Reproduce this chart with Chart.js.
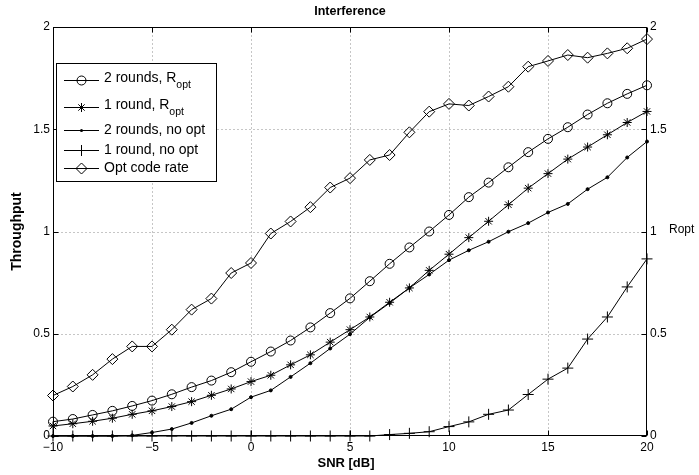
<!DOCTYPE html>
<html>
<head>
<meta charset="utf-8">
<script src="https://cdn.jsdelivr.net/npm/chart.js@4/dist/chart.umd.min.js"></script>
<style>
  html, body { margin: 0; padding: 0; background: #fff; }
  canvas { display: block; }
</style>
</head>
<body>
<canvas id="chart" width="699" height="475"></canvas>
<script>
// ── data ──
const snr = [-10, -9, -8, -7, -6, -5, -4, -3, -2, -1, 0, 1, 2, 3, 4, 5, 6, 7, 8, 9, 10, 11, 12, 13, 14, 15, 16, 17, 18, 19, 20];

const twoRoundsOpt = [0.070, 0.083, 0.103, 0.123, 0.147, 0.173, 0.204, 0.239, 0.271, 0.312, 0.363,
  0.413, 0.467, 0.531, 0.601, 0.673, 0.757, 0.842, 0.922, 1.000, 1.081,
  1.168, 1.239, 1.314, 1.388, 1.453, 1.510, 1.572, 1.627, 1.673, 1.715];

const oneRoundOpt = [0.049, 0.060, 0.072, 0.087, 0.106, 0.123, 0.144, 0.168, 0.199, 0.230, 0.266,
  0.297, 0.348, 0.397, 0.459, 0.520, 0.582, 0.654, 0.724, 0.810, 0.889,
  0.970, 1.050, 1.131, 1.212, 1.283, 1.354, 1.413, 1.473, 1.533, 1.587];

const twoRoundsNoOpt = [0.000, 0.000, 0.000, 0.000, 0.003, 0.017, 0.034, 0.064, 0.099, 0.131, 0.190,
  0.223, 0.289, 0.356, 0.428, 0.498, 0.580, 0.650, 0.724, 0.790, 0.860,
  0.908, 0.950, 0.999, 1.041, 1.093, 1.135, 1.207, 1.265, 1.362, 1.440];

const oneRoundNoOpt = [0, 0, 0, 0, 0, 0, 0, 0, 0, 0, 0,
  0, 0, 0, 0, 0, 0, 0.007, 0.013, 0.021, 0.046,
  0.069, 0.106, 0.127, 0.203, 0.278, 0.332, 0.474, 0.582, 0.729, 0.866];

const optCodeRate = [0.198, 0.242, 0.299, 0.376, 0.438, 0.438, 0.520, 0.618, 0.672, 0.797, 0.846,
  0.990, 1.049, 1.119, 1.215, 1.261, 1.350, 1.374, 1.485, 1.586, 1.624,
  1.616, 1.660, 1.708, 1.806, 1.834, 1.863, 1.850, 1.871, 1.896, 1.941];

const xTicks = [-10, -5, 0, 5, 10, 15, 20];
const yTicks = [0, 0.5, 1, 1.5, 2];

const FONT = '"Liberation Sans", Arial, Helvetica, sans-serif';

function pts(arr) {
  return snr.map((x, i) => ({ x, y: arr[i] }));
}

function series(label, arr, style, radius, fill, axis) {
  return {
    label,
    data: pts(arr),
    yAxisID: axis || 'y',
    borderColor: '#000',
    borderWidth: 1,
    pointStyle: style,
    pointRadius: radius,
    pointBorderColor: '#000',
    pointBorderWidth: 1,
    pointBackgroundColor: fill,
    backgroundColor: fill,
    fill: false,
    tension: 0,
    clip: false
  };
}

// small marker painter for the legend (matches the point styles used)
function drawMarker(ctx, style, x, y, r) {
  ctx.save();
  ctx.strokeStyle = '#000';
  ctx.fillStyle = '#000';
  ctx.lineWidth = 1;
  ctx.beginPath();
  if (style === 'circle') {
    ctx.arc(x, y, r, 0, Math.PI * 2);
    ctx.stroke();
  } else if (style === 'dot') {
    ctx.arc(x, y, r, 0, Math.PI * 2);
    ctx.fill();
  } else if (style === 'cross') {
    ctx.moveTo(x - r, y); ctx.lineTo(x + r, y);
    ctx.moveTo(x, y - r); ctx.lineTo(x, y + r);
    ctx.stroke();
  } else if (style === 'star') {
    const d = r * Math.SQRT1_2;
    ctx.moveTo(x - r, y); ctx.lineTo(x + r, y);
    ctx.moveTo(x, y - r); ctx.lineTo(x, y + r);
    ctx.moveTo(x - d, y - d); ctx.lineTo(x + d, y + d);
    ctx.moveTo(x - d, y + d); ctx.lineTo(x + d, y - d);
    ctx.stroke();
  } else if (style === 'rectRot') {
    ctx.moveTo(x, y - r); ctx.lineTo(x + r, y);
    ctx.lineTo(x, y + r); ctx.lineTo(x - r, y);
    ctx.closePath();
    ctx.stroke();
  }
  ctx.restore();
}

// ── frame, dotted grid, inward ticks, titles ──
const matlabAxes = {
  id: 'matlabAxes',
  beforeDatasetsDraw(chart) {
    const { ctx, chartArea: a, scales } = chart;
    const L = a.left + 0.5, R = Math.round(a.right) - 0.5;
    const T = a.top + 0.5, B = Math.round(a.bottom) - 0.5;
    ctx.save();

    // dotted grid
    ctx.strokeStyle = 'rgba(0,0,0,0.45)';
    ctx.lineWidth = 1;
    ctx.setLineDash([1, 3]);
    xTicks.slice(1, -1).forEach(v => {
      const px = Math.round(scales.x.getPixelForValue(v)) + 0.5;
      ctx.beginPath(); ctx.moveTo(px, T); ctx.lineTo(px, B); ctx.stroke();
    });
    yTicks.slice(1, -1).forEach(v => {
      const py = Math.round(scales.y.getPixelForValue(v)) + 0.5;
      ctx.beginPath(); ctx.moveTo(L, py); ctx.lineTo(R, py); ctx.stroke();
    });
    ctx.setLineDash([]);

    // inward tick marks
    const tl = 5;
    ctx.strokeStyle = '#000';
    ctx.beginPath();
    xTicks.forEach(v => {
      const px = Math.round(scales.x.getPixelForValue(v)) + 0.5;
      ctx.moveTo(px, B); ctx.lineTo(px, B - tl);
      ctx.moveTo(px, T); ctx.lineTo(px, T + tl);
    });
    yTicks.forEach(v => {
      const py = Math.round(scales.y.getPixelForValue(v)) + 0.5;
      ctx.moveTo(L, py); ctx.lineTo(L + tl, py);
      const py2 = Math.round(scales.y2.getPixelForValue(v)) + 0.5;
      ctx.moveTo(R, py2); ctx.lineTo(R - tl, py2);
    });
    ctx.stroke();

    // frame
    ctx.strokeRect(L, T, R - L, B - T);

    // titles
    ctx.fillStyle = '#000';
    ctx.textAlign = 'center';
    ctx.textBaseline = 'middle';
    ctx.font = 'bold 12.5px ' + FONT;
    ctx.fillText('Interference', (a.left + a.right) / 2, 12);
    ctx.font = 'bold 13px ' + FONT;
    ctx.fillText('SNR [dB]', 346, 463);

    ctx.save();
    ctx.translate(17, (a.top + a.bottom) / 2);
    ctx.rotate(-Math.PI / 2);
    ctx.font = 'bold 14px ' + FONT;
    ctx.fillText('Throughput', 0, 0);
    ctx.restore();

    ctx.textAlign = 'left';
    ctx.font = '12px ' + FONT;
    ctx.fillText('Ropt', 669, 229.5);
    ctx.restore();
  },

  // legend box with line+marker samples and subscripts
  afterDatasetsDraw(chart) {
    const { ctx } = chart;
    const rows = [
      { text: '2 rounds, R', sub: 'opt', style: 'circle', r: 4.5, y: 80 },
      { text: '1 round, R', sub: 'opt', style: 'star', r: 4.5, y: 107 },
      { text: '2 rounds, no opt', style: 'dot', r: 1.5, y: 130 },
      { text: '1 round, no opt', style: 'cross', r: 5.5, y: 150 },
      { text: 'Opt code rate', style: 'rectRot', r: 5.5, y: 168 }
    ];
    ctx.save();
    ctx.fillStyle = '#fff';
    ctx.fillRect(56.5, 63.5, 160, 118);
    ctx.strokeStyle = '#000';
    ctx.lineWidth = 1;
    ctx.strokeRect(56.5, 63.5, 160, 118);

    rows.forEach(row => {
      const ly = Math.round(row.y) + 0.5;
      ctx.strokeStyle = '#000';
      ctx.beginPath(); ctx.moveTo(64, ly); ctx.lineTo(99, ly); ctx.stroke();
      drawMarker(ctx, row.style, 81.5, ly, row.r);

      ctx.fillStyle = '#000';
      ctx.textAlign = 'left';
      ctx.textBaseline = 'middle';
      ctx.font = '14px ' + FONT;
      const ty = row.sub ? row.y - 2 : row.y;
      ctx.fillText(row.text, 104, ty);
      if (row.sub) {
        const w = ctx.measureText(row.text).width;
        ctx.font = '10.5px ' + FONT;
        ctx.fillText(row.sub, 104 + w, ty + 7);
      }
    });
    ctx.restore();
  }
};

const tickFont = { family: FONT, size: 12 };
const plainNum = v => String(Math.round(v * 10) / 10);

new Chart(document.getElementById('chart').getContext('2d'), {
  type: 'line',
  data: {
    datasets: [
      series('2 rounds, Ropt', twoRoundsOpt, 'circle', 4.5, 'rgba(0,0,0,0)'),
      series('1 round, Ropt', oneRoundOpt, 'star', 4.5, 'rgba(0,0,0,0)'),
      series('2 rounds, no opt', twoRoundsNoOpt, 'circle', 1.5, '#000'),
      series('1 round, no opt', oneRoundNoOpt, 'cross', 5.5, 'rgba(0,0,0,0)'),
      series('Opt code rate', optCodeRate, 'rectRot', 5.5, 'rgba(0,0,0,0)', 'y2')
    ]
  },
  options: {
    responsive: false,
    animation: false,
    layout: { padding: { top: 27, left: 0, right: 0, bottom: 0 } },
    plugins: {
      legend: { display: false },
      title: { display: false },
      tooltip: { enabled: false }
    },
    scales: {
      x: {
        type: 'linear',
        min: -10,
        max: 20,
        afterFit: s => { s.height = 39; },
        grid: { display: false, drawTicks: false },
        border: { display: false },
        ticks: {
          stepSize: 5,
          padding: 4,
          color: '#000',
          font: tickFont,
          maxRotation: 0,
          callback: v => (v < 0 ? '\u2212' + Math.abs(v) : String(v))
        }
      },
      y: {
        position: 'left',
        min: 0,
        max: 2,
        afterFit: s => { s.width = 53; },
        grid: { display: false, drawTicks: false },
        border: { display: false },
        ticks: { stepSize: 0.5, padding: 3, color: '#000', font: tickFont, callback: plainNum }
      },
      y2: {
        position: 'right',
        min: 0,
        max: 2,
        afterFit: s => { s.width = 52; },
        grid: { display: false, drawTicks: false },
        border: { display: false },
        ticks: { stepSize: 0.5, padding: 3, color: '#000', font: tickFont, callback: plainNum }
      }
    }
  },
  plugins: [matlabAxes]
});
</script>
</body>
</html>
